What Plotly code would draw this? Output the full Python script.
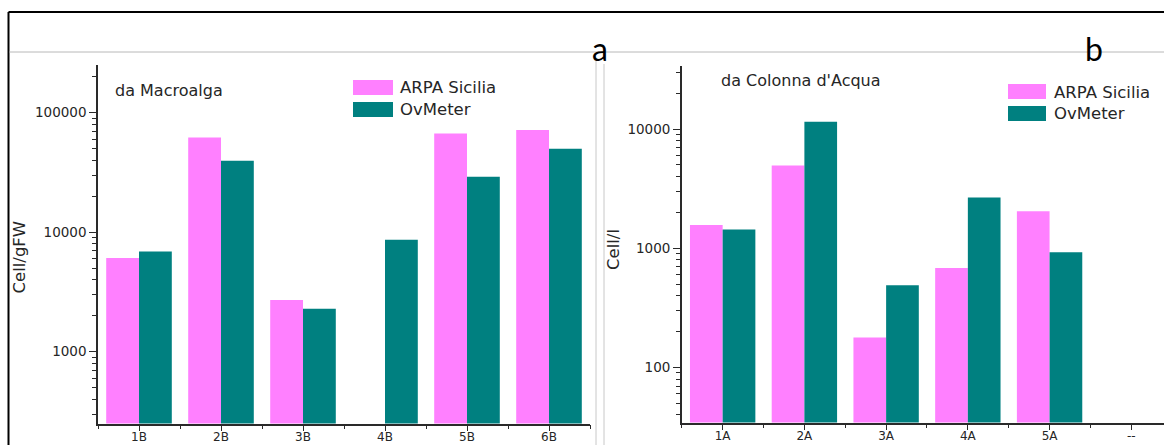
import plotly.graph_objects as go

# --- data -------------------------------------------------------------
macro_sites = ["1B", "2B", "3B", "4B", "5B", "6B"]
macro_arpa = [6070, 61800, 2700, None, 66800, 71300]
macro_ovmeter = [6860, 39500, 2280, 8630, 29000, 49700]

water_sites = ["1A", "2A", "3A", "4A", "5A", "--"]
water_arpa = [1570, 4950, 179, 682, 2050, None]
water_ovmeter = [1440, 11500, 491, 2670, 925, None]

series_names = ["ARPA Sicilia", "OvMeter"]
series_colors = ["#FF80FF", "#008080"]

macro_major = [1000, 10000, 100000]
water_major = [100, 1000, 10000]

# --- page geometry helpers ----------------------------------------------
W, H = 1164, 445


def px(x):
    return x / W


def py(y):
    return 1 - y / H


FONT = "DejaVu Sans"
TXT = "#262626"
AX = "#2a2a2a"


def minor_log(lo, hi):
    vals = []
    d = 1
    while d <= hi:
        for k in range(2, 10):
            v = k * d
            if lo <= v <= hi:
                vals.append(v)
        d *= 10
    return vals


fig = go.Figure()

idx_m = list(range(len(macro_sites)))
idx_w = list(range(len(water_sites)))

for name, vals, col in zip(series_names, [macro_arpa, macro_ovmeter], series_colors):
    fig.add_trace(go.Bar(x=idx_m, y=vals, name=name, marker_color=col,
                         marker_line_width=0, showlegend=False,
                         xaxis="x", yaxis="y"))
for name, vals, col in zip(series_names, [water_arpa, water_ovmeter], series_colors):
    fig.add_trace(go.Bar(x=idx_w, y=vals, name=name, marker_color=col,
                         marker_line_width=0, showlegend=False,
                         xaxis="x2", yaxis="y2"))

xcommon = dict(
    showline=True, linecolor=AX, linewidth=1.5, ticks="outside", ticklen=6,
    tickwidth=1.3, tickcolor=AX, showgrid=False, zeroline=False,
    tickfont=dict(family=FONT, size=12, color=TXT), automargin=False,
    ticklabelstandoff=-5, fixedrange=True,
)
ycommon = dict(
    type="log", showline=True, linecolor=AX, linewidth=1.5, ticks="outside",
    ticklen=7, tickwidth=1.3, tickcolor=AX, showgrid=False, zeroline=False,
    tickfont=dict(family=FONT, size=13.5, color=TXT), automargin=False,
    fixedrange=True,
)

fig.update_layout(
    width=W, height=H,
    margin=dict(l=0, r=0, t=0, b=0),
    paper_bgcolor="white", plot_bgcolor="white",
    barmode="group", bargap=0.2, bargroupgap=0,
    xaxis=dict(
        domain=[px(98), px(590)], range=[-0.5, 5.5],
        tickmode="array", tickvals=idx_m, ticktext=macro_sites,
        minor=dict(tickmode="array",
                   tickvals=[i - 0.5 for i in range(len(macro_sites) + 1)],
                   ticks="outside", ticklen=4, tickcolor=AX, tickwidth=1.2),
        anchor="y", **xcommon),
    yaxis=dict(
        domain=[py(423.5), py(65)], range=[2.398, 5.398],
        tickmode="array", tickvals=macro_major,
        ticktext=[str(v) for v in macro_major],
        minor=dict(tickmode="array", tickvals=minor_log(250, 250000),
                   ticks="outside", ticklen=4, tickcolor=AX, tickwidth=1.2),
        anchor="x", **ycommon),
    xaxis2=dict(
        domain=[px(681.8), 1.0], range=[-0.5, 5.40],
        tickmode="array", tickvals=idx_w, ticktext=water_sites,
        minor=dict(tickmode="array",
                   tickvals=[i - 0.5 for i in range(len(water_sites) + 1)],
                   ticks="outside", ticklen=4, tickcolor=AX, tickwidth=1.2),
        anchor="y2", **xcommon),
    yaxis2=dict(
        domain=[py(422.5), py(66)], range=[1.539, 4.529],
        tickmode="array", tickvals=water_major,
        ticktext=[str(v) for v in water_major],
        minor=dict(tickmode="array", tickvals=minor_log(34, 34000),
                   ticks="outside", ticklen=4, tickcolor=AX, tickwidth=1.2),
        anchor="x2", **ycommon),
)

shapes = [
    # outer frame (top and left edges)
    dict(type="line", xref="paper", yref="paper", x0=px(8.5), x1=1.0,
         y0=py(12), y1=py(12), line=dict(color="black", width=2)),
    dict(type="line", xref="paper", yref="paper", x0=px(8.5), x1=px(8.5),
         y0=py(12), y1=0, line=dict(color="black", width=2)),
    # thin rule under the panel letters
    dict(type="line", xref="paper", yref="paper", x0=px(9.5), x1=1.0,
         y0=py(52), y1=py(52), line=dict(color="#b8b8b8", width=1)),
    # panel separators
    dict(type="line", xref="paper", yref="paper", x0=px(596), x1=px(596),
         y0=py(61), y1=0, line=dict(color="#c8c8c8", width=1)),
    dict(type="line", xref="paper", yref="paper", x0=px(604), x1=px(604),
         y0=py(64), y1=0, line=dict(color="#c8c8c8", width=1)),
]

annotations = []


def text(s, x, y, size, xanchor="center", family=FONT, color=TXT, angle=0):
    annotations.append(dict(
        text=s, x=px(x), y=py(y), xref="paper", yref="paper",
        xanchor=xanchor, yanchor="middle", showarrow=False, textangle=angle,
        font=dict(family=family, size=size, color=color)))


# legends drawn as swatches plus labels
legend_specs = [
    (353, 393, [(80, 95), (102, 117)], 398),
    (1008, 1046, [(84, 99), (106, 121)], 1052),
]
for x0, x1, rows, tx in legend_specs:
    for (y0, y1), name, col in zip(rows, series_names, series_colors):
        shapes.append(dict(type="rect", xref="paper", yref="paper",
                           x0=px(x0), x1=px(x1), y0=py(y1), y1=py(y0),
                           fillcolor=col, line=dict(width=0)))
        text(name, tx, (y0 + y1) / 2 + 0.5, 16.5, xanchor="left")

text("da Macroalga", 113, 90, 16, xanchor="left")
text("da Colonna d'Acqua", 719, 80, 16, xanchor="left")
text("Cell/gFW", 18.5, 257, 16.5, angle=-90)
text("Cell/l", 613, 250, 16.5, angle=-90)
text("a", 600, 49, 32, family="Lato", color="black")
text("b", 1094, 49, 32, family="Lato", color="black")

fig.update_layout(shapes=shapes, annotations=annotations)

fig.write_html("out.html")
